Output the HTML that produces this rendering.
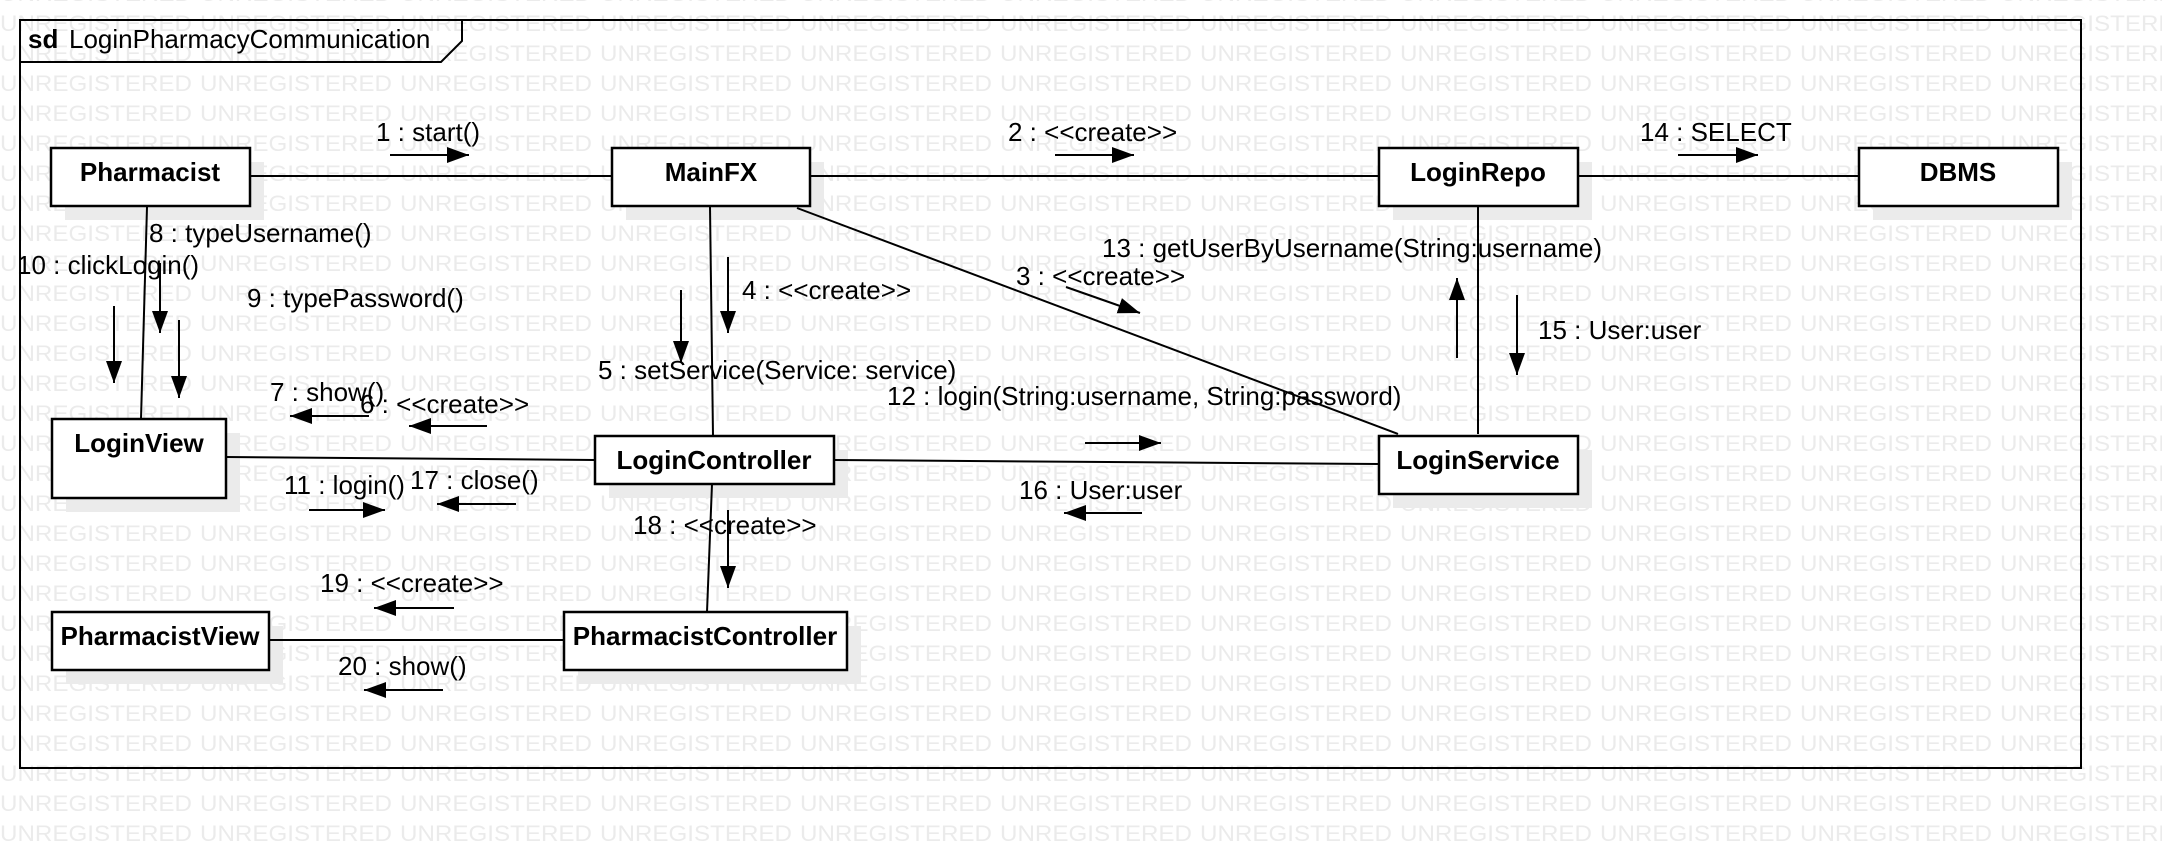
<!DOCTYPE html>
<html><head><meta charset="utf-8"><style>
html,body{margin:0;padding:0;background:#fff;}
svg{display:block;}
text{font-family:"Liberation Sans",sans-serif;}
.l{font-size:26px;fill:#000;}
.b{font-size:26px;font-weight:bold;fill:#000;text-anchor:middle;}
.wm{font-size:22px;fill:#ebebeb;}
</style></head><body>
<svg width="2162" height="850" viewBox="0 0 2162 850" xmlns="http://www.w3.org/2000/svg">
<defs>
<pattern id="wm" x="0" y="5" width="200" height="30" patternUnits="userSpaceOnUse">
<text class="wm" x="0" y="26" textLength="192" lengthAdjust="spacingAndGlyphs">UNREGISTERED</text>
</pattern>
<marker id="ah" markerWidth="24" markerHeight="18" refX="22" refY="9" orient="auto" markerUnits="userSpaceOnUse">
<path d="M0,1 L22,9 L0,17 Z" fill="#000"/>
</marker>
</defs>
<rect width="2162" height="850" fill="url(#wm)"/>
<rect x="20" y="20" width="2061" height="748" fill="none" stroke="#000" stroke-width="2"/>
<path d="M20,62 L441,62 L462,41 L462,20" fill="none" stroke="#000" stroke-width="2"/>
<text x="28" y="48" style="font-size:26px;font-weight:bold">sd</text>
<text x="69" y="48" style="font-size:26px">LoginPharmacyCommunication</text>

<g fill="#ebebeb">
<rect x="65" y="162" width="199" height="58"/>
<rect x="626" y="162" width="198" height="58"/>
<rect x="1393" y="162" width="199" height="58"/>
<rect x="1873" y="162" width="199" height="58"/>
<rect x="66" y="433" width="174" height="79"/>
<rect x="609" y="450" width="239" height="48"/>
<rect x="1393" y="450" width="199" height="58"/>
<rect x="66" y="626" width="217" height="58"/>
<rect x="578" y="626" width="283" height="58"/>
</g>

<g stroke="#000" stroke-width="2" fill="none">
<line x1="250" y1="176" x2="612" y2="176"/>
<line x1="810" y1="176" x2="1379" y2="176"/>
<line x1="1578" y1="176" x2="1859" y2="176"/>
<line x1="147" y1="207" x2="141" y2="419"/>
<line x1="710" y1="207" x2="713" y2="436"/>
<line x1="797" y1="208" x2="1398" y2="434"/>
<line x1="1478" y1="207" x2="1478" y2="434"/>
<line x1="226" y1="457" x2="595" y2="460"/>
<line x1="834" y1="460" x2="1379" y2="464"/>
<line x1="712" y1="484" x2="707" y2="612"/>
<line x1="269" y1="640" x2="564" y2="640"/>
</g>

<g fill="#fff" stroke="#000" stroke-width="2.5">
<rect x="51" y="148" width="199" height="58"/>
<rect x="612" y="148" width="198" height="58"/>
<rect x="1379" y="148" width="199" height="58"/>
<rect x="1859" y="148" width="199" height="58"/>
<rect x="52" y="419" width="174" height="79"/>
<rect x="595" y="436" width="239" height="48"/>
<rect x="1379" y="436" width="199" height="58"/>
<rect x="52" y="612" width="217" height="58"/>
<rect x="564" y="612" width="283" height="58"/>
</g>
<text class="b" x="150" y="181">Pharmacist</text>
<text class="b" x="711" y="181">MainFX</text>
<text class="b" x="1478" y="181">LoginRepo</text>
<text class="b" x="1958" y="181">DBMS</text>
<text class="b" x="139" y="452">LoginView</text>
<text class="b" x="714" y="469">LoginController</text>
<text class="b" x="1478" y="469">LoginService</text>
<text class="b" x="160" y="645">PharmacistView</text>
<text class="b" x="705" y="645">PharmacistController</text>

<g stroke="#000" stroke-width="2" marker-end="url(#ah)">
<line x1="390" y1="155" x2="469" y2="155"/>
<line x1="1055" y1="155" x2="1134" y2="155"/>
<line x1="1678" y1="155" x2="1758" y2="155"/>
<line x1="160" y1="263" x2="160" y2="333"/>
<line x1="114" y1="306" x2="114" y2="383"/>
<line x1="179" y1="320" x2="179" y2="398"/>
<line x1="728" y1="257" x2="728" y2="333"/>
<line x1="681" y1="290" x2="681" y2="363"/>
<line x1="1066" y1="287" x2="1140" y2="313"/>
<line x1="1457" y1="358" x2="1457" y2="278"/>
<line x1="1517" y1="295" x2="1517" y2="375"/>
<line x1="369" y1="416" x2="290" y2="416"/>
<line x1="487" y1="426" x2="409" y2="426"/>
<line x1="1085" y1="443" x2="1161" y2="443"/>
<line x1="309" y1="510" x2="385" y2="510"/>
<line x1="516" y1="504" x2="437" y2="504"/>
<line x1="1142" y1="513" x2="1064" y2="513"/>
<line x1="728" y1="510" x2="728" y2="588"/>
<line x1="454" y1="608" x2="374" y2="608"/>
<line x1="443" y1="690" x2="364" y2="690"/>
</g>

<text class="l" x="376" y="141">1 : start()</text>
<text class="l" x="1008" y="141">2 : &lt;&lt;create&gt;&gt;</text>
<text class="l" x="1640" y="141">14 : SELECT</text>
<text class="l" x="149" y="242">8 : typeUsername()</text>
<text class="l" x="17" y="274">10 : clickLogin()</text>
<text class="l" x="247" y="307">9 : typePassword()</text>
<text class="l" x="742" y="299">4 : &lt;&lt;create&gt;&gt;</text>
<text class="l" x="1016" y="285">3 : &lt;&lt;create&gt;&gt;</text>
<text class="l" x="1102" y="257">13 : getUserByUsername(String:username)</text>
<text class="l" x="1538" y="339">15 : User:user</text>
<text class="l" x="598" y="379">5 : setService(Service: service)</text>
<text class="l" x="887" y="405">12 : login(String:username, String:password)</text>
<text class="l" x="270" y="401">7 : show()</text>
<text class="l" x="360" y="413">6 : &lt;&lt;create&gt;&gt;</text>
<text class="l" x="284" y="494">11 : login()</text>
<text class="l" x="410" y="489">17 : close()</text>
<text class="l" x="1019" y="499">16 : User:user</text>
<text class="l" x="633" y="534">18 : &lt;&lt;create&gt;&gt;</text>
<text class="l" x="320" y="592">19 : &lt;&lt;create&gt;&gt;</text>
<text class="l" x="338" y="675">20 : show()</text>
</svg>
</body></html>
